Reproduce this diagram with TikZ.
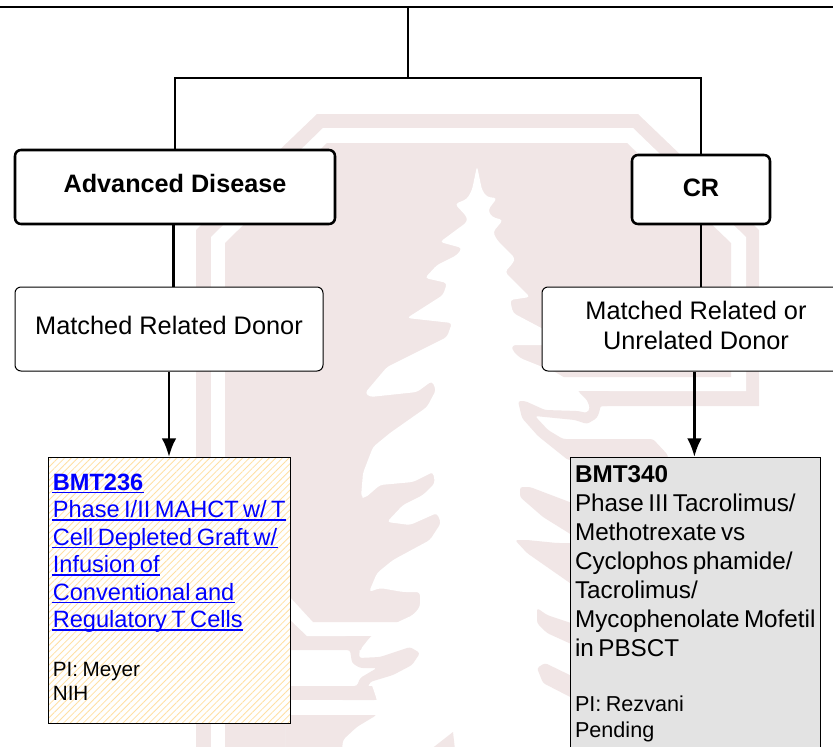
\documentclass[tikz,border=0pt]{standalone}
\usepackage{fontspec}
\setmainfont{Liberation Sans}
\usetikzlibrary{patterns.meta,arrows.meta}
\definecolor{crestpink}{HTML}{F1E6E6}
\definecolor{hatchyellow}{HTML}{FFE0A3}
\definecolor{pendgray}{HTML}{E3E3E3}
\definecolor{linkblue}{HTML}{0000FF}
\newsavebox{\linkbox}
\newcommand{\triallink}[1]{\sbox{\linkbox}{\color{linkblue}#1}\textcolor{linkblue}{\rlap{\kern-1pt\rule[-2.3pt]{\dimexpr\wd\linkbox+1.5pt\relax}{1.1pt}}}\usebox{\linkbox}}
\newcommand{\boxfoot}[1]{\par\nointerlineskip\rule{0pt}{#1}\par}
\tikzset{
    crest/.style={fill=crestpink,draw=none},
    crestgap/.style={fill=white,draw=none},
    diseasebox/.style={draw,line width=1.9pt,fill=white,rounded corners=4.5pt,
        font=\fontsize{18.9}{22}\selectfont\bfseries,inner sep=0pt},
    donorbox/.style={draw,line width=0.75pt,fill=white,rounded corners=4.5pt,align=center,
        font=\fontsize{19}{22.5}\selectfont,inner sep=0pt,text depth=6pt},
    trialbox/.style={draw,line width=0.8pt,anchor=north,inner xsep=3.2pt,inner ysep=0pt},
    link/.style={line width=2pt},
    arrow/.style={line width=2.2pt,-{Latex[length=14pt,width=11pt]}}
}
\begin{document}
\begin{tikzpicture}[x=0.75pt,y=-0.75pt]
    \useasboundingbox (0,0) rectangle (833,747);

    % crest behind the chart
    \fill[crest] (196,747) -- (196,230) -- (317,114) -- (638,114) -- (759,230) -- (759,406)
        -- (450,406) -- (450,650) -- (291,650) -- (291,747) -- cycle;
    \fill[crest] (291,686) rectangle (377,700);
    \fill[crest] (291,715) rectangle (377,747);
    \fill[crestgap] (211,747) -- (211,237) -- (323,128) -- (633,128) -- (746,237) -- (746,391)
        -- (460,391) -- (460,636) -- (307,636) -- (285,615) -- (285,747) -- cycle;
    \fill[crest] (225,747) -- (225,243) -- (327,143) -- (627,143) -- (731,243) -- (731,377)
        -- (450,377) -- (450,622) -- (313,622) -- (290,597) -- (285,600) -- (285,747) -- cycle;

    % tree
    \fill[crestgap,rounded corners=2.5pt] (477,166) -- (472,190) -- (467,199) -- (455,204) -- (467,217)
        -- (467,222) -- (440,242) -- (462,248) -- (457,255) -- (437,265) -- (425,278) -- (447,283)
        -- (443,295) -- (407,318) -- (452,323) -- (447,337) -- (387,367) -- (365,393) -- (370,397)
        -- (417,392) -- (432,381) -- (436,390) -- (427,407) -- (390,433) -- (373,447) -- (363,473)
        -- (361,497) -- (365,498) -- (380,485) -- (413,482) -- (433,472) -- (435,483) -- (423,495)
        -- (403,505) -- (387,522) -- (410,525) -- (437,513) -- (441,523) -- (430,540) -- (393,560)
        -- (377,573) -- (369,592) -- (380,588) -- (403,592) -- (420,592) -- (420,607) -- (413,615)
        -- (398,622) -- (371,636) -- (360,650) -- (377,700) -- (377,715) -- (357,727) -- (343,740)
        -- (342,750) -- (600,750) -- (600,410) -- (578,391) -- (565,378) -- (555,372) -- (545,368)
        -- (520,358) -- (512,350) -- (512,345) -- (545,345) -- (545,330) -- (513,313) -- (510,300)
        -- (530,297) -- (505,272) -- (513,263) -- (515,258) -- (497,240) -- (493,232) -- (503,220)
        -- (492,217) -- (488,210) -- (497,198) -- (487,197) -- (482,190) -- cycle;

    % branches over the tree
    \fill[crest,rounded corners=2pt] (345,636) -- (371,636) -- (360,647) -- (359,658) -- (380,657)
        -- (410,647) -- (420,653) -- (412,665) -- (393,675) -- (370,682) -- (367,690) -- (377,700)
        -- (340,700) -- (340,686) -- (357,686) -- (360,678) -- (377,668) -- (360,668) -- (352,663)
        -- (350,650) -- (345,650) -- cycle;
    \fill[crest,rounded corners=2pt] (578,391) -- (610,391) -- (610,406) -- (600,406) -- (600,410)
        -- (597,418) -- (587,424) -- (575,420) -- (535,416) -- (548,430) -- (563,439) -- (653,439)
        -- (668,455) -- (668,460) -- (568,460) -- (538,436) -- (522,418) -- (518,401) -- (525,401)
        -- (545,410) -- (578,411) -- (587,413) -- (590,408) -- (587,400) -- cycle;
    \fill[crest,rounded corners=2pt] (520,487) -- (530,487) -- (580,506) -- (580,540) -- (543,517) -- (520,497) -- cycle;
    \fill[crest,rounded corners=2pt] (515,540) -- (527,540) -- (557,543) -- (580,543) -- (580,590) -- (527,553) -- cycle;
    \fill[crest,rounded corners=2pt] (537,608) -- (547,615) -- (580,626) -- (580,648) -- (547,633) -- (537,623) -- cycle;
    \fill[crest,rounded corners=2pt] (537,668) -- (545,663) -- (580,680) -- (580,702) -- (543,683) -- cycle;
    \fill[crest] (430,750) -- (453,732) -- (455,750) -- cycle;

    % chart
    \coordinate (railw) at (0,7);
    \coordinate (raile) at (833,7);
    \coordinate (railm) at (408,7);
    \coordinate (fork) at (408,78);

    \node[diseasebox,text depth=6pt,minimum width=240pt,minimum height=55.5pt] (adv) at (175,187) {Advanced Disease};
    \node[diseasebox,text depth=3pt,minimum width=103.5pt,minimum height=51.75pt] (cr) at (701,189.5) {CR};
    \node[donorbox,minimum width=231pt,minimum height=63pt] (rel) at (169,329) {Matched Related Donor};
    \node[donorbox,minimum width=231pt,minimum height=63pt] (unrel) at (696,329) {Matched Related or\\Unrelated Donor};

    \node[trialbox,text width=175pt,minimum height=199.5pt,
        preaction={fill=white},pattern={Lines[angle=45,distance=3.5pt,line width=0.6pt]},pattern color=hatchyellow]
        (bmta) at (169.5,457) {%
        \fontsize{17.7}{20.6}\selectfont
        \triallink{\textbf{BMT236}}\\
        \triallink{Phase I/II MAHCT w/ T}\\
        \triallink{Cell Depleted Graft w/}\\
        \triallink{Infusion of}\\
        \triallink{Conventional and}\\
        \triallink{Regulatory T Cells}\par
        \vspace{19pt}
        \fontsize{15.5}{18}\selectfont
        PI: Meyer\\
        NIH\boxfoot{4.5pt}};
    \node[trialbox,text width=180.7pt,inner xsep=3.4pt,fill=pendgray,minimum height=225pt]
        (bmtb) at (695.5,457) {%
        \fontsize{18.2}{21.75}\selectfont
        \textbf{BMT340}\\
        Phase III Tacrolimus/\\
        Methotrexate vs\\
        Cyclophos phamide/\\
        Tacrolimus/\\
        \mbox{Mycophenolate Mofetil}\\
        in PBSCT\par
        \vspace{21.75pt}
        \fontsize{16.2}{19.5}\selectfont
        PI: Rezvani\\
        Pending\boxfoot{6pt}};

    \draw[link] (railw) -- (raile);
    \draw[link] (railm) -- (fork);
    \draw[link] (adv.north) |- (fork) -| (cr.north);
    \draw[link] ([xshift=-1.2pt]adv.south) -- ([xshift=-1.2pt]adv.south |- rel.north);
    \draw[link] (cr.south) -- (cr.south |- unrel.north);
    \draw[arrow] (rel.south) -- (rel.south |- bmta.north);
    \draw[arrow] ([xshift=-1.2pt]unrel.south) -- ([xshift=-1.2pt]unrel.south |- bmtb.north);
\end{tikzpicture}
\end{document}
